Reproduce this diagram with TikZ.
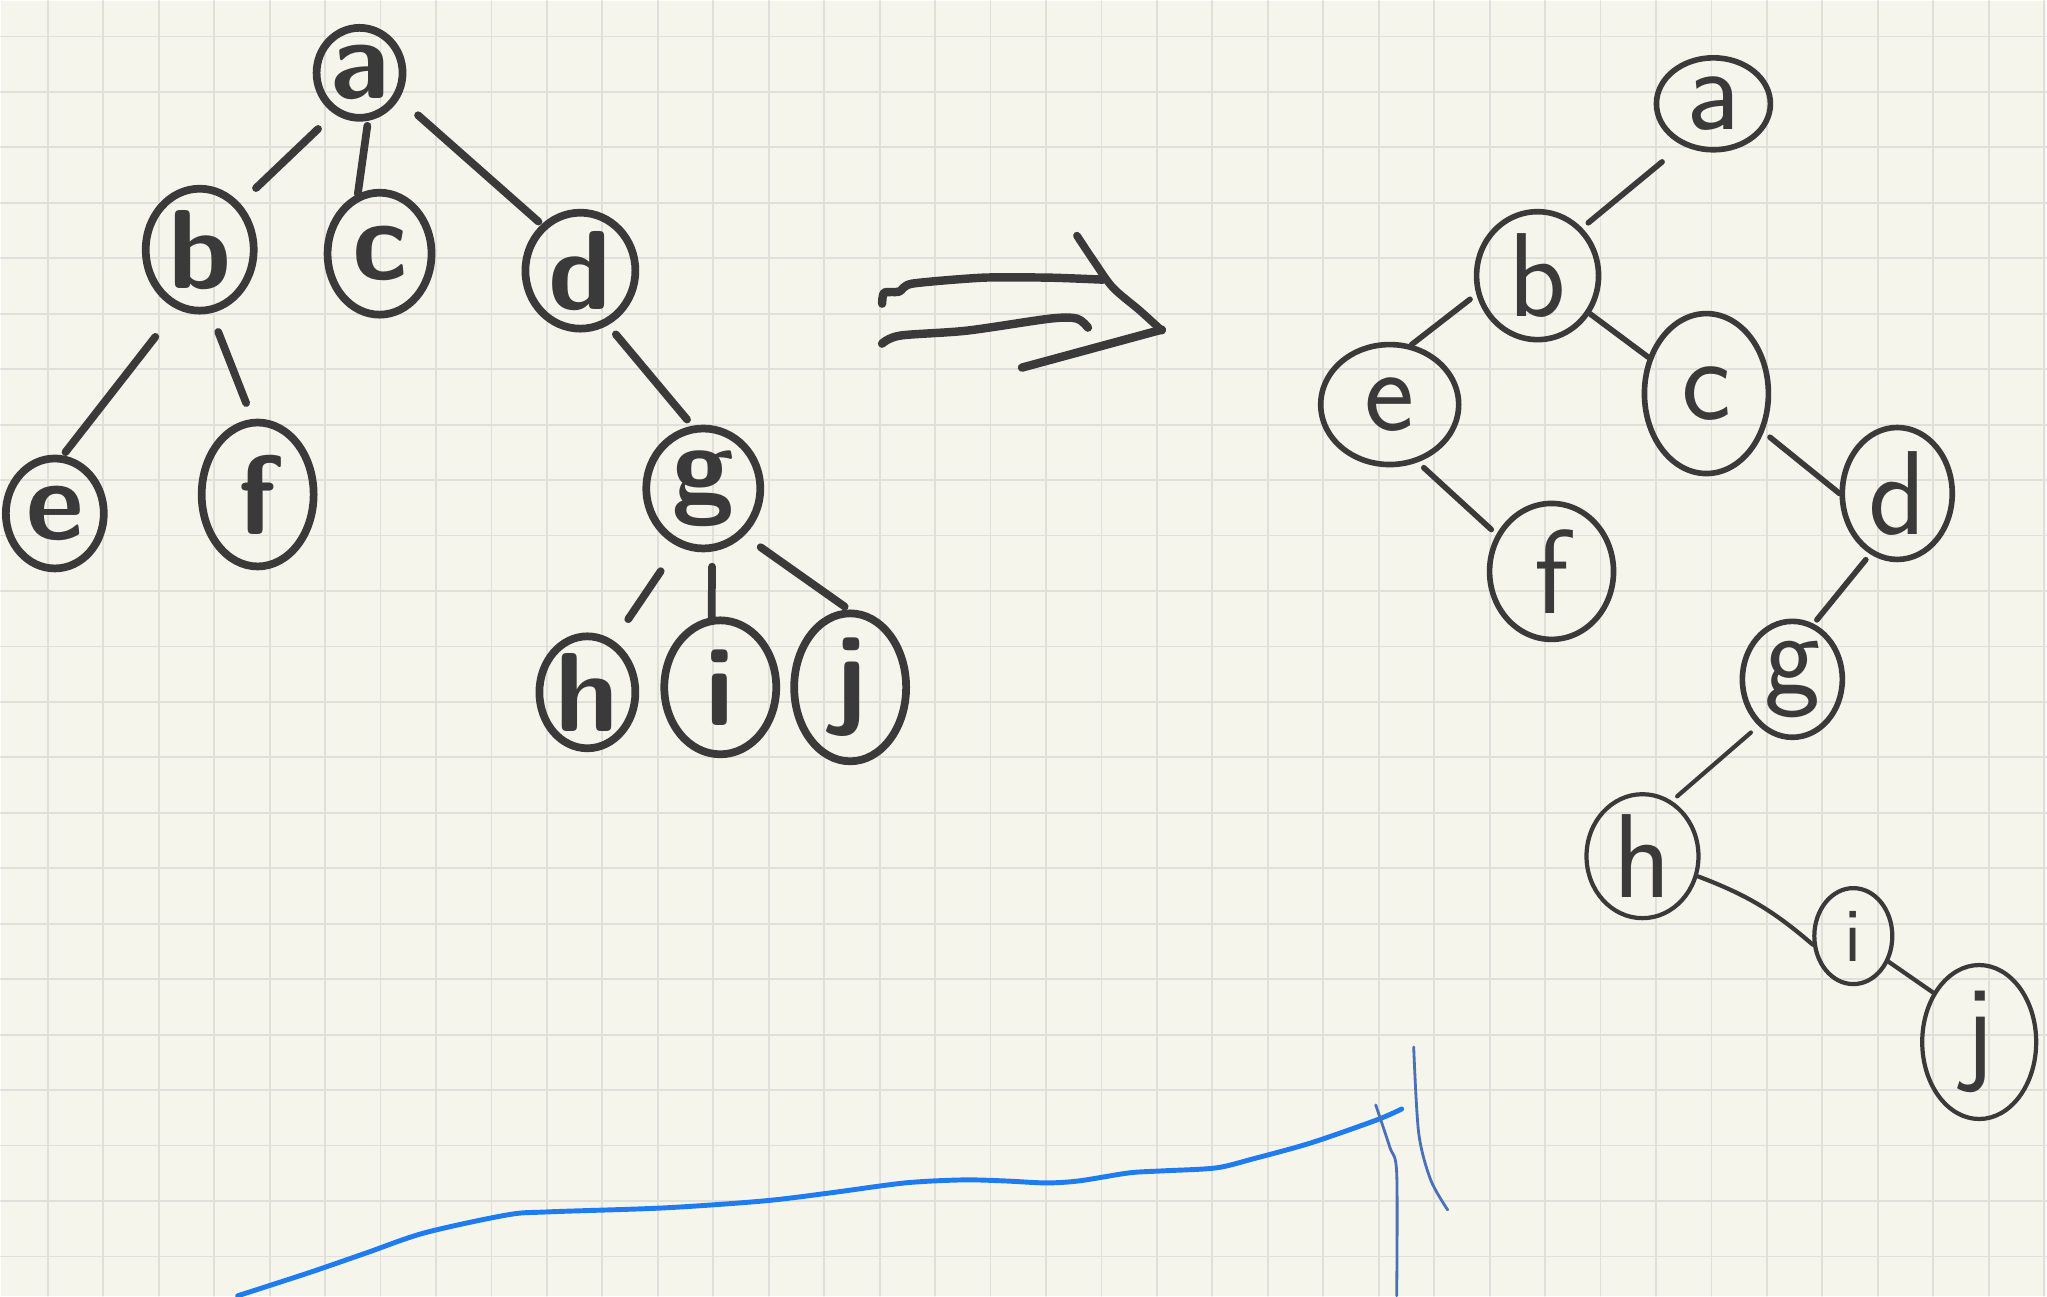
\documentclass[tikz,border=0pt]{standalone}
\usetikzlibrary{shapes.geometric}
\definecolor{paper}{HTML}{F5F5EB}
\definecolor{gridc}{HTML}{E0E0DA}
\definecolor{ink}{HTML}{3A3A3A}
\definecolor{pen}{HTML}{1F7CF0}
\definecolor{penb}{HTML}{4A70BA}
\begin{document}
\begin{tikzpicture}[x=0.01cm, y=-0.01cm, line join=round, line cap=round,
  knot/.style={ellipse, draw=ink, line width=2.2pt, inner sep=0pt, text=ink, font=\fontsize{32}{32}\sffamily\bfseries},
  lnk/.style={draw=ink, line width=2.2pt},
  knotr/.style={knot, line width=1.6pt, font=\fontsize{34}{34}\sffamily},
  lnkr/.style={lnk, line width=1.6pt}]
 	% squared paper
 	\fill[paper] (0,0) rectangle (2047,1296);
 	\foreach \k in {0,...,36}
 		\draw[gridc, line width=0.5pt] ({47+55.5*\k},0) -- ({47+55.5*\k},1296);
 	\foreach \k in {0,...,22}
 		\draw[gridc, line width=0.5pt] (0,{35.6+55.5*\k}) -- (2047,{35.6+55.5*\k});
 	\useasboundingbox (0,0) rectangle (2047,1296);
 	
 	% general tree
 	\node[knot, minimum width=0.86cm, minimum height=0.9cm] (la) at (359,72) {a};
 	\node[knot, minimum width=1.08cm, minimum height=1.22cm] (lb) at (199,249) {b};
 	\node[knot, minimum width=1.04cm, minimum height=1.22cm] (lc) at (379,253) {c};
 	\node[knot, minimum width=1.1cm, minimum height=1.16cm] (ld) at (580,270) {d};
 	\node[knot, minimum width=0.98cm, minimum height=1.1cm] (le) at (54,513) {e};
 	\node[knot, minimum width=1.12cm, minimum height=1.44cm] (lf) at (257,494) {f};
 	\node[knot, minimum width=1.14cm, minimum height=1.2cm] (lg) at (703,488) {g};
 	\node[knot, minimum width=0.96cm, minimum height=1.12cm] (lh) at (587,692) {h};
 	\node[knot, minimum width=1.12cm, minimum height=1.34cm] (li) at (720,687) {i};
 	\node[knot, minimum width=1.12cm, minimum height=1.48cm] (lj) at (850,687) {j};
 	\draw[lnk, shorten <=.22cm, shorten >=.22cm] (la.238) -- (lb.49);
 	\draw[lnk, shorten <=.05cm] (la.280) -- (lc.110);
 	\draw[lnk, shorten <=.25cm, shorten >=.04cm] (la.-33) -- (ld.130);
 	\draw[lnk, shorten <=.35cm, shorten >=.04cm] (lb.249) -- (le.82);
 	\draw[lnk, shorten <=.2cm, shorten >=.17cm] (lb.-80) -- (lf.94);
 	\draw[lnk, shorten <=.12cm, shorten >=.08cm] (ld.-63) -- (lg.100);
 	\draw[lnk, shorten <=.3cm, shorten >=.26cm] (lg.-114) -- (lh.63);
 	\draw[lnk, shorten <=.15cm] (lg.-82) -- (li.97);
 	\draw[lnk, shorten <=.2cm, shorten >=.05cm] (lg.-49) -- (lj.91);
 	
 	% double arrow
 	\draw[ink, line width=2.4pt] plot[smooth, tension=0.4] coordinates {(882,303) (884,292) (899,291) (912,283) (983,277) (1050,277) (1103,279)};
 	\draw[ink, line width=2.4pt] plot[smooth, tension=0.5] coordinates {(882,343) (900,335) (967,330) (1050,318) (1077,318) (1088,327)};
 	\draw[ink, line width=2.2pt] plot[smooth] coordinates {(1077,235) (1095,262) (1113,287) (1140,310) (1162,330)};
 	\draw[ink, line width=2.4pt] (1162,329) -- (1022,367);
 	
 	% binary tree
 	\node[knotr, minimum width=1.14cm, minimum height=0.92cm] (ra) at (1714,103) {a};
 	\node[knotr, minimum width=1.22cm, minimum height=1.28cm] (rb) at (1538,275) {b};
 	\node[knotr, minimum width=1.24cm, minimum height=1.6cm] (rc) at (1707,393) {c};
 	\node[knotr, minimum width=1.1cm, minimum height=1.32cm] (rd) at (1898,493) {d};
 	\node[knotr, minimum width=1.38cm, minimum height=1.2cm] (re) at (1390,404) {e};
 	\node[knotr, minimum width=1.24cm, minimum height=1.36cm] (rf) at (1552,571) {f};
 	\node[knotr, minimum width=1cm, minimum height=1.16cm] (rg) at (1793,679) {g};
 	\node[knotr, line width=1.2pt, minimum width=1.12cm, minimum height=1.24cm] (rh) at (1643,856) {h};
 	\node[knotr, line width=1.2pt, minimum width=0.78cm, minimum height=0.96cm, font=\fontsize{22}{22}\sffamily] (ri) at (1854,936) {i};
 	\node[knotr, line width=1.2pt, minimum width=1.14cm, minimum height=1.54cm] (rj) at (1980,1042) {j};
 	\draw[lnkr, shorten <=.26cm, shorten >=.08cm] (ra.233) -- (rb.47);
 	\draw[lnkr, shorten <=.08cm] (rb.197) -- (re.70);
 	\draw[lnkr] (rb.-36) -- (rc.148);
 	\draw[lnkr, shorten <=.08cm, shorten >=.07cm] (re.-64) -- (rf.146);
 	\draw[lnkr, shorten <=.08cm] (rc.-34) -- (rd.180);
 	\draw[lnkr, shorten <=.07cm, shorten >=.05cm] (rd.246) -- (rg.69);
 	\draw[lnkr, line width=1.2pt, shorten <=.1cm, shorten >=.07cm] (rg.234) -- (rh.62);
 	\draw[lnkr, line width=1.2pt] (rh.-20) to[bend left=10] (ri.192);
 	\draw[lnkr, line width=1.2pt] (ri.-36) -- (rj.133);
 	
 	% blue pen strokes
 	\draw[pen, line width=1.4pt] plot[smooth] coordinates {(237,1296) (308,1273) (366,1253) (424,1233) (507,1215) (548,1212) (664,1208) (764,1201) (830,1193) (905,1183) (963,1180) (1004,1181) (1046,1183) (1079,1181) (1129,1173) (1162,1171) (1216,1168) (1253,1159) (1311,1143) (1377,1120) (1402,1109)};
 	\draw[penb, line width=0.8pt] plot[smooth] coordinates {(1376,1105) (1390,1147) (1397,1173) (1397,1296)};
 	\draw[penb, line width=0.8pt] plot[smooth] coordinates {(1414,1047) (1419,1133) (1431,1180) (1448,1210)};
\end{tikzpicture}
\end{document}
